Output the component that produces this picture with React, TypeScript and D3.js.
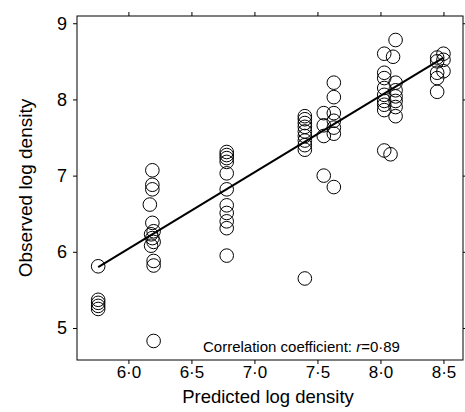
import React, { useEffect, useRef } from 'react';
import * as d3 from 'd3';

// predicted (x) and observed (y) log densities
const predicted = [
  5.76, 5.76, 5.76, 5.76, 5.76,
  6.19, 6.19, 6.19, 6.17, 6.19, 6.2, 6.18, 6.19, 6.2, 6.18, 6.2, 6.2, 6.2,
  6.78, 6.78, 6.78, 6.78, 6.78, 6.78, 6.78, 6.78, 6.78, 6.78, 6.78,
  7.4, 7.4, 7.4, 7.4, 7.4, 7.4, 7.4, 7.4, 7.4, 7.4,
  7.55, 7.55, 7.55, 7.55,
  7.63, 7.63, 7.63, 7.63, 7.63, 7.63, 7.63,
  8.03, 8.03, 8.03, 8.03, 8.03, 8.03, 8.03, 8.03, 8.03,
  8.12, 8.1, 8.12, 8.12, 8.12, 8.12, 8.12, 8.12, 8.08,
  8.45, 8.45, 8.45, 8.45, 8.45,
  8.5, 8.5, 8.5,
];
const observed = [
  5.81, 5.37, 5.33, 5.29, 5.25,
  7.07, 6.88, 6.82, 6.62, 6.38, 6.27, 6.23, 6.18, 6.13, 6.08, 5.88, 5.82, 4.83,
  7.31, 7.27, 7.23, 7.18, 7.03, 6.82, 6.61, 6.51, 6.4, 6.31, 5.95,
  7.78, 7.74, 7.69, 7.64, 7.58, 7.52, 7.46, 7.4, 7.34, 5.65,
  7.82, 7.66, 7.52, 7.0,
  8.22, 8.03, 7.82, 7.72, 7.63, 7.55, 6.85,
  8.6, 8.35, 8.28, 8.15, 8.06, 7.98, 7.93, 7.86, 7.33,
  8.78, 8.56, 8.22, 8.12, 8.04, 7.98, 7.9, 7.78, 7.28,
  8.55, 8.5, 8.35, 8.28, 8.1,
  8.6, 8.52, 8.37,
];

// fitted line end points
const fitX = [5.76, 8.5];
const fitY = [5.8, 8.55];

const xTicks = [6.0, 6.5, 7.0, 7.5, 8.0, 8.5];
const yTicks = [5, 6, 7, 8, 9];

const fmt = (d: number) => d.toFixed(1).replace('.', '\u00B7');

const App = () => {
  const svgRef = useRef<SVGSVGElement>(null);

  useEffect(() => {
    const svg = d3.select(svgRef.current);
    svg.selectAll('*').remove();

    const left = 77, right = 463, top = 16, bottom = 360;
    const font = "'Liberation Sans', Arial, Helvetica, sans-serif";

    const x = d3.scaleLinear().domain([5.592, 8.655]).range([left, right]);
    const y = d3.scaleLinear().domain([4.58, 9.095]).range([bottom, top]);

    const g = svg.append('g');

    // frame
    g.append('rect')
      .attr('x', left).attr('y', top)
      .attr('width', right - left).attr('height', bottom - top)
      .attr('fill', 'none').attr('stroke', '#000').attr('stroke-width', 1);

    const styleAxis = (sel: any) => {
      sel.select('.domain').remove();
      sel.selectAll('line').attr('stroke', '#000');
    };

    g.append('g').attr('transform', `translate(0,${bottom})`)
      .call(d3.axisBottom(x).tickValues(xTicks).tickSize(4).tickPadding(2).tickFormat((d: any) => fmt(d)))
      .call(styleAxis)
      .selectAll('text')
      .attr('font-family', font).attr('font-size', 17).attr('fill', '#000');

    g.append('g').attr('transform', `translate(0,${top})`)
      .call(d3.axisTop(x).tickValues(xTicks).tickSize(4).tickFormat(() => ''))
      .call(styleAxis);

    g.append('g').attr('transform', `translate(${left},0)`)
      .call(d3.axisLeft(y).tickValues(yTicks).tickSize(4).tickPadding(6).tickFormat((d: any) => String(d)))
      .call(styleAxis)
      .selectAll('text')
      .attr('font-family', font).attr('font-size', 18).attr('fill', '#000');

    g.append('g').attr('transform', `translate(${right},0)`)
      .call(d3.axisRight(y).tickValues(yTicks).tickSize(4).tickFormat(() => ''))
      .call(styleAxis);

    // fitted line
    g.append('line')
      .attr('x1', x(fitX[0])).attr('y1', y(fitY[0]))
      .attr('x2', x(fitX[1])).attr('y2', y(fitY[1]))
      .attr('stroke', '#000').attr('stroke-width', 2);

    // points
    g.selectAll('.pt')
      .data(predicted.map((p, i) => [p, observed[i]]))
      .enter()
      .append('circle')
      .attr('class', 'pt')
      .attr('cx', (d) => x(d[0]))
      .attr('cy', (d) => y(d[1]))
      .attr('r', 6.8)
      .attr('fill', 'none')
      .attr('stroke', '#000')
      .attr('stroke-width', 1);

    // correlation note
    const note = g.append('text')
      .attr('x', 203).attr('y', 352)
      .attr('font-family', font).attr('font-size', 15).attr('fill', '#000');
    note.append('tspan').text('Correlation coefficient: ');
    note.append('tspan').attr('font-style', 'italic').text('r');
    note.append('tspan').text('=0\u00B789');

    // axis titles
    g.append('text')
      .attr('x', 268).attr('y', 403)
      .attr('text-anchor', 'middle')
      .attr('font-family', font).attr('font-size', 18.5).attr('fill', '#000')
      .text('Predicted log density');

    g.append('text')
      .attr('transform', `translate(32,${(top + bottom) / 2}) rotate(-90)`)
      .attr('text-anchor', 'middle')
      .attr('font-family', font).attr('font-size', 19).attr('fill', '#000')
      .text('Observed log density');
  }, []);

  return (
    <div style={{ position: 'absolute', left: 0, top: 0 }}>
      <svg ref={svgRef} width={465} height={412} style={{ display: 'block', background: '#fff' }}></svg>
    </div>
  );
};

export default App;
